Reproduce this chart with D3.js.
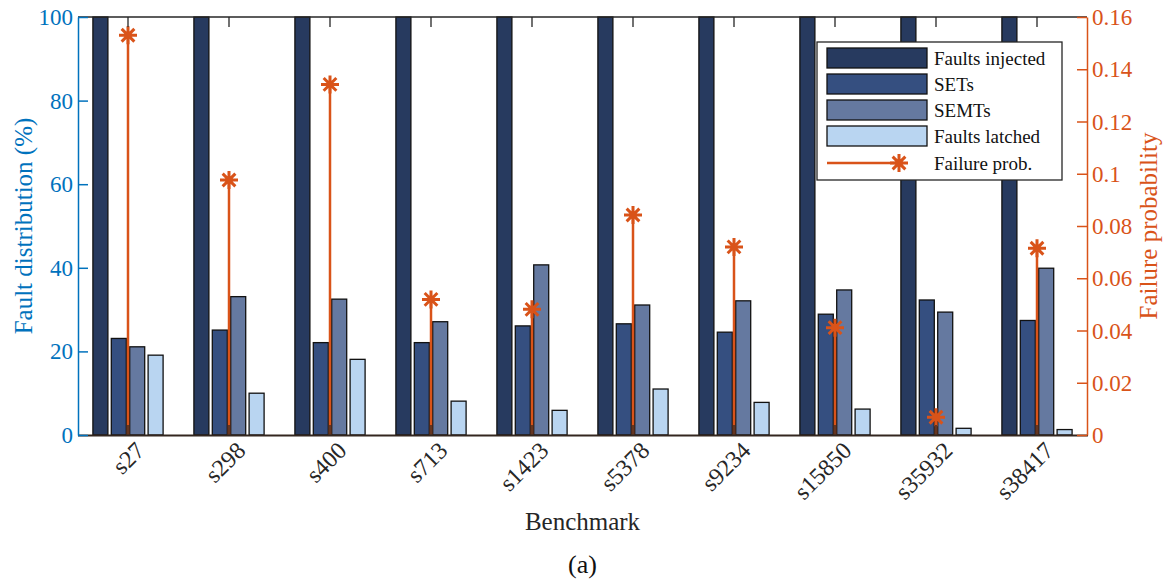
<!DOCTYPE html>
<html>

<head>
  <title>Fault distribution per benchmark</title>
  <script type="text/javascript" src="https://cdn.jsdelivr.net/npm/d3@7"></script>
  <style>
    body {
      margin: 0;
      background-color: white;
    }
  </style>
</head>

<body>
  <script type="text/javascript">

    // Data
    const categories = ["s27", "s298", "s400", "s713", "s1423", "s5378", "s9234", "s15850", "s35932", "s38417"];
    const faultsInjected = [100, 100, 100, 100, 100, 100, 100, 100, 100, 100];
    const sets = [23.1, 25.1, 22.1, 22.1, 26.1, 26.6, 24.6, 28.9, 32.3, 27.4];
    const semts = [21.1, 33.1, 32.5, 27.1, 40.7, 31.1, 32.1, 34.7, 29.4, 39.9];
    const faultsLatched = [19.1, 10.0, 18.1, 8.1, 5.9, 11.0, 7.8, 6.2, 1.6, 1.3];
    const failureProb = [0.153, 0.0976, 0.1342, 0.0519, 0.0481, 0.0842, 0.072, 0.0411, 0.0068, 0.0715];

    const seriesNames = ["Faults injected", "SETs", "SEMTs", "Faults latched"];
    const seriesColors = ["#273a5f", "#354f80", "#6579a0", "#b9d5f1"];
    const leftTicks = [0, 20, 40, 60, 80, 100];
    const rightTicks = [0, 0.02, 0.04, 0.06, 0.08, 0.1, 0.12, 0.14, 0.16];

    const blue = "#0072bd";
    const orange = "#d95319";
    const dark = "#262626";
    const serif = "'Liberation Serif'";

    // Width og height
    const w = 1167;
    const h = 581;
    const plotL = 78, plotR = 1087, plotT = 17, plotB = 435;

    const svg = d3.select("body")
      .append("svg")
      .attr("width", w)
      .attr("height", h);

    // Skalaer
    const xScale = d3.scaleBand()
      .domain(categories)
      .range([plotL - 0.5, plotR + 0.5]);

    const subScale = d3.scaleBand()
      .domain(seriesNames)
      .range([-36.8, 36.8])
      .paddingInner(0.185)
      .paddingOuter(0.0925);

    const yLeft = d3.scaleLinear()
      .domain([0, 100])
      .range([plotB, plotT]);

    const yRight = d3.scaleLinear()
      .domain([0, 0.16])
      .range([plotB, plotT]);

    const cx = function (c) { return xScale(c) + xScale.bandwidth() / 2; };

    // Bars
    const seriesValues = [faultsInjected, sets, semts, faultsLatched];
    seriesValues.forEach(function (vals, si) {
      svg.selectAll("rect.s" + si)
        .data(vals)
        .enter()
        .append("rect")
        .attr("class", "s" + si)
        .attr("x", function (d, i) { return cx(categories[i]) + subScale(seriesNames[si]); })
        .attr("y", function (d) { return yLeft(d); })
        .attr("width", subScale.bandwidth())
        .attr("height", function (d) { return plotB - yLeft(d); })
        .attr("fill", seriesColors[si])
        .attr("stroke", "#111")
        .attr("stroke-width", 1.3);
    });

    // Asterisk marker path
    function asterisk(r) {
      const a = r * Math.SQRT1_2;
      return "M" + (-r) + ",0L" + r + ",0M0," + (-r) + "L0," + r +
        "M" + (-a) + "," + (-a) + "L" + a + "," + a +
        "M" + (-a) + "," + a + "L" + a + "," + (-a);
    }

    // Stems
    svg.selectAll("line.stem")
      .data(failureProb)
      .enter()
      .append("line")
      .attr("class", "stem")
      .attr("x1", function (d, i) { return cx(categories[i]); })
      .attr("x2", function (d, i) { return cx(categories[i]); })
      .attr("y1", yRight(0))
      .attr("y2", function (d) { return yRight(d); })
      .attr("stroke", orange)
      .attr("stroke-width", 2.5);

    svg.selectAll("path.star")
      .data(failureProb)
      .enter()
      .append("path")
      .attr("class", "star")
      .attr("d", asterisk(9))
      .attr("transform", function (d, i) { return "translate(" + cx(categories[i]) + "," + yRight(d) + ")"; })
      .attr("fill", "none")
      .attr("stroke", orange)
      .attr("stroke-width", 3);

    // Top border + bottom axis
    svg.append("line")
      .attr("x1", plotL).attr("x2", plotR).attr("y1", plotT).attr("y2", plotT)
      .attr("stroke", dark).attr("stroke-width", 1.3);

    const xAxis = d3.axisBottom(xScale).tickSize(-10).tickSizeOuter(0).tickFormat("");
    const gx = svg.append("g")
      .attr("transform", "translate(0," + plotB + ")")
      .call(xAxis);
    gx.select(".domain").attr("stroke", "#33261f").attr("stroke-width", 2);
    gx.selectAll(".tick line").attr("stroke", dark).attr("stroke-width", 1.3);

    const xTop = d3.axisTop(xScale).tickSize(-10).tickSizeOuter(0).tickFormat("");
    const gxt = svg.append("g")
      .attr("transform", "translate(0," + plotT + ")")
      .call(xTop);
    gxt.select(".domain").remove();
    gxt.selectAll(".tick line").attr("stroke", dark).attr("stroke-width", 1.3);

    // X tick labels
    svg.selectAll("text.xlab")
      .data(categories)
      .enter()
      .append("text")
      .attr("class", "xlab")
      .attr("transform", function (d) { return "translate(" + (cx(d) + 12) + "," + 446 + ") rotate(-45)"; })
      .attr("text-anchor", "end")
      .attr("dy", "0.35em")
      .attr("font-size", "24px")
      .attr("fill", dark)
      .text(function (d) { return d; });

    // Left axis
    const yAxisL = d3.axisRight(yLeft).tickValues(leftTicks).tickSize(10).tickSizeOuter(0).tickFormat("");
    const gl = svg.append("g")
      .attr("transform", "translate(" + plotL + ",0)")
      .call(yAxisL);
    gl.selectAll("path, line").attr("stroke", blue).attr("stroke-width", 1.5);

    svg.selectAll("text.ylab")
      .data(leftTicks)
      .enter()
      .append("text")
      .attr("class", "ylab")
      .attr("x", plotL - 5)
      .attr("y", function (d) { return yLeft(d); })
      .attr("dy", "0.35em")
      .attr("text-anchor", "end")
      .attr("font-size", "23px")
      .attr("fill", blue)
      .text(function (d) { return d; });

    // Right axis
    const yAxisR = d3.axisLeft(yRight).tickValues(rightTicks).tickSize(10).tickSizeOuter(0).tickFormat("");
    const gr = svg.append("g")
      .attr("transform", "translate(" + plotR + ",0)")
      .call(yAxisR);
    gr.selectAll("path, line").attr("stroke", orange).attr("stroke-width", 1.5);

    svg.selectAll("text.rlab")
      .data(rightTicks)
      .enter()
      .append("text")
      .attr("class", "rlab")
      .attr("x", plotR + 5)
      .attr("y", function (d) { return yRight(d); })
      .attr("dy", "0.35em")
      .attr("text-anchor", "start")
      .attr("font-size", "23px")
      .attr("fill", orange)
      .text(function (d) { return d3.format("~g")(d); });

    // Axis titles
    svg.append("text")
      .attr("transform", "translate(23," + ((plotT + plotB) / 2) + ") rotate(-90)")
      .attr("text-anchor", "middle")
      .attr("dy", "0.35em")
      .attr("font-size", "25px")
      .attr("fill", blue)
      .text("Fault distribution (%)");

    svg.append("text")
      .attr("transform", "translate(1148," + ((plotT + plotB) / 2) + ") rotate(-90)")
      .attr("text-anchor", "middle")
      .attr("dy", "0.35em")
      .attr("font-size", "25px")
      .attr("fill", orange)
      .text("Failure probability");

    svg.append("text")
      .attr("x", (plotL + plotR) / 2)
      .attr("y", 530)
      .attr("text-anchor", "middle")
      .attr("font-size", "25px")
      .attr("fill", dark)
      .text("Benchmark");

    svg.append("text")
      .attr("x", (plotL + plotR) / 2)
      .attr("y", 573)
      .attr("text-anchor", "middle")
      .attr("font-size", "26px")
      .attr("fill", "#111")
      .text("(a)");

    // Legend
    const lg = svg.append("g").attr("transform", "translate(817,42)");
    lg.append("rect")
      .attr("width", 245).attr("height", 138)
      .attr("fill", "white").attr("stroke", dark).attr("stroke-width", 1.3);

    seriesNames.forEach(function (name, i) {
      lg.append("rect")
        .attr("x", 10).attr("y", 6 + i * 26)
        .attr("width", 100).attr("height", 20)
        .attr("fill", seriesColors[i])
        .attr("stroke", "#111").attr("stroke-width", 1.3);
      lg.append("text")
        .attr("x", 117).attr("y", 16 + i * 26)
        .attr("dy", "0.35em")
        .attr("font-size", "19px")
        .attr("fill", "#111")
        .text(name);
    });
    lg.append("line")
      .attr("x1", 10).attr("x2", 82).attr("y1", 121).attr("y2", 121)
      .attr("stroke", orange).attr("stroke-width", 2.5);
    lg.append("path")
      .attr("d", asterisk(9))
      .attr("transform", "translate(82,121)")
      .attr("fill", "none").attr("stroke", orange).attr("stroke-width", 3);
    lg.append("text")
      .attr("x", 117).attr("y", 121)
      .attr("dy", "0.35em")
      .attr("font-size", "19px")
      .attr("fill", "#111")
      .text("Failure prob.");

    // Serif font on all texts
    svg.selectAll("text").style("font-family", serif);

  </script>
</body>

</html>
